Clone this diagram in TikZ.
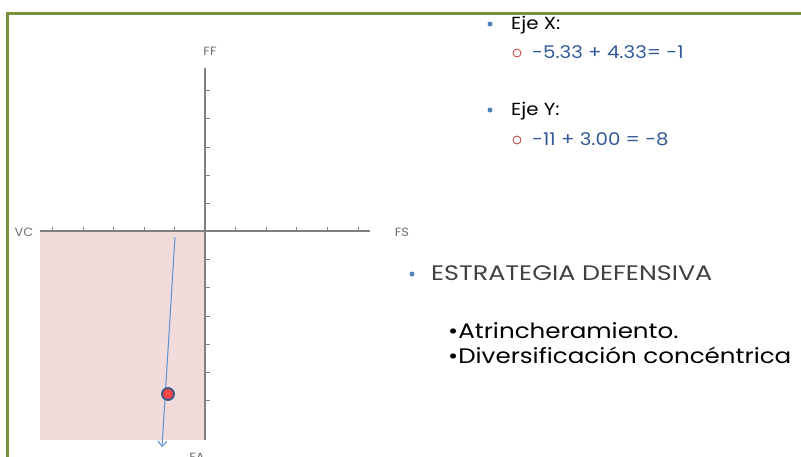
\documentclass[tikz,border=0pt]{standalone}
\usepackage{fontspec}
\setmainfont{Poppins}
\newfontfamily\wideL{Poppins}[FakeStretch=1.21]
\newfontfamily\wideK{Poppins}[FakeStretch=1.17]
\newfontfamily\wideM{Poppins}[FakeStretch=1.13]
\newfontfamily\wideS{Poppins}[FakeStretch=1.08]
\usetikzlibrary{arrows.meta}
\definecolor{frame}{RGB}{118,146,60}
\definecolor{quad}{RGB}{242,220,219}
\definecolor{axis}{RGB}{128,128,128}
\definecolor{vec}{RGB}{91,146,210}
\definecolor{dotfill}{RGB}{250,70,70}
\definecolor{dotline}{RGB}{56,88,138}
\definecolor{bul}{RGB}{79,129,189}
\definecolor{sub}{RGB}{192,80,77}
\definecolor{num}{RGB}{50,90,150}
\definecolor{dark}{RGB}{64,64,64}
\tikzset{
  axlab/.style={font=\wideS\fontsize{12}{13}\selectfont, text=axis!85!black, inner sep=0},
  txt/.style={anchor=west, inner sep=0},
  medtxt/.style={txt, font=\wideM\fontsize{17.5}{20}\selectfont},
  bigtxt/.style={txt, font=\wideL\fontsize{21}{24}\selectfont},
  listtxt/.style={txt, font=\wideK\fontsize{21}{24}\selectfont},
  tick/.style={draw=axis, line width=0.8pt},
  bulletdot/.style={circle, fill=bul, inner sep=0, minimum size=5pt},
  subring/.style={circle, draw=sub, line width=0.9pt, inner sep=0, minimum size=8pt},
}
\begin{document}
\begin{tikzpicture}[x=1pt,y=-1pt]
\useasboundingbox (0,0) rectangle (801,456);
% frame
\draw[frame, line width=3pt] (7,458) -- (7,13) -- (803,13);
% quadrant
\fill[quad] (40,231) rectangle (205,440);
% axes
\coordinate (xl) at (40,231); \coordinate (xr) at (370,231);
\coordinate (yt) at (205,68); \coordinate (yb) at (205,440);
\draw[axis, line width=1.2pt] (xl) -- (xr);
\draw[axis, line width=1.2pt] (yt) -- (yb);
\foreach \x in {52,83,113,144,174,235,266,296,327,358}
  \draw[tick] (\x,231) -- (\x,226.5);
\foreach \y in {90,118,147,175,203,259,287,316,344,372,400}
  \draw[tick] (205,\y) -- (210,\y);
% axis labels
\node[axlab] (ff) at (210,51) {FF};
\node[axlab] (vc) at (24,232) {VC};
\node[axlab] (fs) at (402,232) {FS};
\node[axlab] (fa) at (197,457) {FA};
% vector
\coordinate (vs) at (175,237);
\coordinate (ve) at (162,447);
\draw[vec, line width=1pt, -{Straight Barb[length=5pt,width=9pt]}] (vs) -- (ve);
\node[circle, fill=dotfill, draw=dotline, line width=1.8pt, minimum size=12pt, inner sep=0] (pt) at (168,394) {};
% right text
\node[bulletdot] (b1) at (490,24) {};
\node[medtxt] (ejex) at (511,25) {Eje X:};
\node[subring] (s1) at (517,53) {};
\node[medtxt, text=num] (vx) at (532,52) {-5.33 + 4.33= -1};
\node[bulletdot] (b2) at (490,110) {};
\node[medtxt] (ejey) at (511,111) {Eje Y:};
\node[subring] (s2) at (517,140) {};
\node[medtxt, text=num] (vy) at (532,139) {-11 + 3.00 = -8};
\node[bulletdot] (b3) at (412,274) {};
\node[bigtxt, text=dark] (est) at (431,273) {ESTRATEGIA DEFENSIVA};
\node[listtxt] (a1) at (448,331) {•Atrincheramiento.};
\node[listtxt] (a2) at (448,355) {•Diversificación concéntrica};
\end{tikzpicture}
\end{document}
